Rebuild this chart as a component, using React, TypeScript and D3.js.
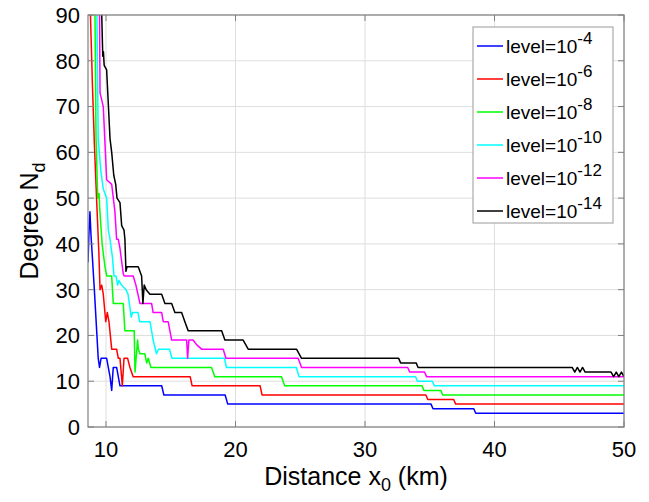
import React from 'react';
import * as d3 from 'd3';

type Pt = [number, number];

// x ticks / y ticks
const xTicks = [10, 20, 30, 40, 50];
const yTicks = [0, 10, 20, 30, 40, 50, 60, 70, 80, 90];

// degree vs distance, one array per level (x in km, y = degree)
const level4: Pt[] = [[8.61,36],[8.68,42],[8.76,47],[8.84,42],[8.95,37],[9.1,30],[9.28,21],[9.4,15],[9.5,13],[9.62,15],[10.05,15],[10.31,11],[10.44,8],[10.56,13],[10.82,13],[11.08,9],[14.3,9],[14.47,7],[19.2,7],[19.4,5],[35.1,5],[35.25,4],[38.4,4],[38.55,3],[50,3]];
const level6: Pt[] = [[8.8,90],[8.95,75],[9.1,62],[9.3,48],[9.45,38],[9.54,30],[9.67,31],[9.79,29],[9.98,23],[10.1,25],[10.23,23],[10.44,17],[10.82,17],[10.95,15],[11.08,15],[11.26,9],[11.39,15],[11.67,15],[11.85,13],[12.1,11],[16.5,11],[16.65,9],[21.9,9],[22.05,7],[34.7,7],[34.85,6],[36.85,6],[37.0,5],[50,5]];
const level8: Pt[] = [[9.15,90],[9.23,63],[9.36,50],[9.46,51],[9.51,48],[9.7,40],[9.92,35],[10.05,33],[10.44,33],[10.56,27],[11.33,27],[11.46,21],[12.18,21],[12.24,12],[12.44,19],[12.5,17],[12.62,16],[13.0,16],[13.14,14],[13.26,15],[13.47,13],[18.15,13],[18.4,11],[23.55,11],[23.8,9],[34.4,9],[34.55,8],[35.85,8],[36.0,7],[50,7]];
const level10: Pt[] = [[9.3,90],[9.4,63],[9.6,56],[9.79,52],[10.05,50],[10.18,43],[10.31,41],[10.5,37],[10.62,33],[10.77,33],[10.9,31],[11.0,32],[11.2,31],[11.54,30],[11.7,29],[11.95,24],[12.05,25],[12.47,25],[12.6,23],[13.4,23],[13.64,19],[13.9,16],[14.05,17],[14.9,17],[15.1,15],[19.15,15],[19.3,13],[24.7,13],[24.9,11],[33.9,11],[34.05,10],[35.2,10],[35.35,9],[50,9]];
const level12: Pt[] = [[9.5,90],[9.54,73],[9.79,70],[10.05,54],[10.44,53],[10.69,47],[10.82,41],[10.95,41],[11.08,39],[11.33,33.5],[11.4,33],[12.1,33],[12.31,31],[12.62,27],[13.52,27],[13.64,25],[14.3,25],[14.42,23],[14.8,23],[15.07,19],[16.23,19],[16.3,15],[16.4,19],[16.73,19],[16.99,18],[17.38,17],[19.05,17],[19.26,15],[24.84,15],[25.1,13],[33.3,13],[33.45,12],[34.6,12],[34.75,11],[50,11]];
const level14: Pt[] = [[9.67,90],[9.75,81],[9.8,82],[9.86,79],[10.05,78],[10.31,63],[10.44,60],[10.6,55],[10.75,53],[10.85,50],[11.08,49],[11.21,44],[11.39,43],[11.46,41],[11.54,34],[11.62,35],[12.49,35],[12.75,33],[12.85,27],[12.95,31],[13.1,30],[13.39,29],[14.3,29],[14.55,27],[15.07,27],[15.32,25],[15.84,25],[16.09,23],[16.35,21],[18.93,21],[19.18,19],[20.59,19],[20.98,17],[24.71,17],[25.1,15],[32.6,15],[32.75,14],[33.95,14],[34.1,13],[46.0,13],[46.2,12],[46.4,13],[46.6,12],[46.8,13],[47.0,12],[49.0,12],[49.2,11],[49.4,12],[49.6,11],[49.8,12],[50,11]];

const seriesData = [level4, level6, level8, level10, level12, level14];
const exponents = ['-4', '-6', '-8', '-10', '-12', '-14'];
const colors = ['#0000ff', '#ff0000', '#00ff00', '#00ffff', '#ff00ff', '#000000'];

const W = 649, H = 502;
const margin = { top: 15, right: 25, bottom: 75, left: 88 };
const font = '"Liberation Sans", Arial, Helvetica, sans-serif';

const App = () => {
  const innerW = W - margin.left - margin.right;
  const innerH = H - margin.top - margin.bottom;

  const x = d3.scaleLinear().domain([8.61, 50]).range([0, innerW]);
  const y = d3.scaleLinear().domain([0, 90]).range([innerH, 0]);
  const line = d3.line<Pt>().x(d => x(d[0])).y(d => y(d[1]));

  const axisColor = '#808080';
  const tickLen = 6;

  return (
    <svg width={W} height={H} style={{ position: 'absolute', left: 0, top: 0, background: '#fff' }} fontFamily={font}>
      <defs>
        <clipPath id="plotClip">
          <rect x={0} y={0} width={innerW} height={innerH} />
        </clipPath>
      </defs>
      <g transform={`translate(${margin.left},${margin.top})`}>
        {/* grid */}
        {xTicks.map(t => (
          <line key={'gx' + t} x1={x(t)} x2={x(t)} y1={0} y2={innerH} stroke="#dedede" strokeWidth={1} />
        ))}
        {yTicks.map(t => (
          <line key={'gy' + t} x1={0} x2={innerW} y1={y(t)} y2={y(t)} stroke="#dedede" strokeWidth={1} />
        ))}

        {/* lines */}
        <g clipPath="url(#plotClip)">
          {seriesData.map((d, i) => (
            <path key={i} d={line(d) || ''} fill="none" stroke={colors[i]} strokeWidth={1.5} strokeLinejoin="round" />
          ))}
        </g>

        {/* box + ticks */}
        <rect x={0} y={0} width={innerW} height={innerH} fill="none" stroke={axisColor} strokeWidth={1.2} />
        {xTicks.map(t => (
          <g key={'tx' + t}>
            <line x1={x(t)} x2={x(t)} y1={innerH} y2={innerH - tickLen} stroke={axisColor} />
            <line x1={x(t)} x2={x(t)} y1={0} y2={tickLen} stroke={axisColor} />
            <text x={x(t)} y={innerH + 30} textAnchor="middle" fontSize={22} fill="#000">{t}</text>
          </g>
        ))}
        {yTicks.map(t => (
          <g key={'ty' + t}>
            <line x1={0} x2={tickLen} y1={y(t)} y2={y(t)} stroke={axisColor} />
            <line x1={innerW} x2={innerW - tickLen} y1={y(t)} y2={y(t)} stroke={axisColor} />
            <text x={-8} y={y(t)} dy="0.36em" textAnchor="end" fontSize={22} fill="#000">{t}</text>
          </g>
        ))}

        {/* axis labels */}
        <text x={innerW / 2} y={innerH + 58} textAnchor="middle" fontSize={25} fill="#000">
          Distance x<tspan dy={6} fontSize={18}>0</tspan><tspan dy={-6}> (km)</tspan>
        </text>
        <text transform={`translate(${38 - margin.left},${innerH / 2}) rotate(-90)`} textAnchor="middle" fontSize={25} fill="#000">
          Degree N<tspan dy={7} fontSize={18}>d</tspan>
        </text>

        {/* legend */}
        <g transform={`translate(${473 - margin.left},${27 - margin.top})`}>
          <rect x={0} y={0} width={140} height={196} fill="#fff" stroke="#999" strokeWidth={1} />
          {exponents.map((e, i) => (
            <g key={e} transform={`translate(0,${19 + i * 33})`}>
              <line x1={4} x2={30} y1={0} y2={0} stroke={colors[i]} strokeWidth={1.5} />
              <text x={33} y={7} fontSize={19} fill="#000">
                level=10<tspan dy={-9} fontSize={17}>{e}</tspan>
              </text>
            </g>
          ))}
        </g>
      </g>
    </svg>
  );
};

export default App;
